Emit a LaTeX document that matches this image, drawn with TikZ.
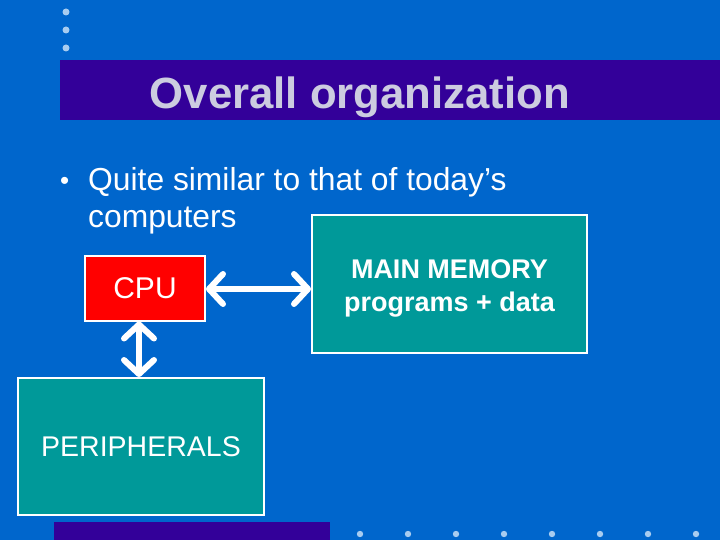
\documentclass[tikz,border=0pt]{standalone}
\usepackage{fontspec}
\setmainfont{Liberation Sans}
\usetikzlibrary{arrows.meta}
\definecolor{bg}{HTML}{0066CC}
\definecolor{titlebar}{HTML}{330099}
\definecolor{titletext}{HTML}{CCCCE0}
\definecolor{teal1}{HTML}{009999}
\definecolor{dotc}{HTML}{A8CCF0}
\tikzset{
  box/.style={draw=white, line width=2pt, text=white, inner sep=0pt},
  arr/.style={draw=white, line width=6pt, {Straight Barb[round,length=14pt,width=30pt]}-{Straight Barb[round,length=14pt,width=30pt]}},
  dotmark/.style={fill=dotc, draw=none},
  bodytext/.style={text=white, font=\fontsize{31.8}{37}\selectfont, inner sep=0pt, anchor=base west}
}
\begin{document}
\begin{tikzpicture}[x=1pt,y=-1pt]
\fill[bg] (0,0) rectangle (720,540);
\useasboundingbox (0,0) rectangle (720,540);
% top-left dots
\foreach \yy in {12,30,48} \fill[dotmark] (66,\yy) circle (3.5);
% title bar
\fill[titlebar] (60,60) rectangle (720,120);
\node[text=titletext, font=\bfseries\fontsize{43.7}{48}\selectfont, anchor=base, inner sep=0pt] (title) at (360,109) {Overall organization};
% bullet text
\node[bodytext, font=\fontsize{26}{30}\selectfont] (bul) at (60,190) {•};
\node[bodytext] (line1) at (88,191) {Quite similar to that of today’s};
\node[bodytext] (line2) at (88,228) {computers};
% boxes
\node[box, fill=red, minimum width=120pt, minimum height=65pt, font=\fontsize{30}{34}\selectfont] (cpu) at (145,288) {CPU};
\node[box, fill=teal1, minimum width=275pt, minimum height=138pt] (mem) at (449.5,284) {};
\node[text=white, inner sep=0pt, align=center, font=\bfseries\fontsize{27}{33}\selectfont] (memtext) at ([yshift=-4pt]mem.center) {MAIN MEMORY\\programs + data};
\node[box, fill=teal1, minimum width=246pt, minimum height=137pt, font=\fontsize{28.5}{32}\selectfont] (per) at (141,446.5) {PERIPHERALS};
% arrows
\draw[arr] ([yshift=-1pt]cpu.east) -- ([yshift=-1pt]cpu.east -| mem.west);
\draw[arr] ([xshift=-6pt]cpu.south) -- ([xshift=-6pt]cpu.south |- per.north);
% bottom bar
\fill[titlebar] (54,522) rectangle (330,540);
\foreach \xx in {360,408,456,504,552,600,648,696} \fill[dotmark] (\xx,534) circle (3.2);
\end{tikzpicture}
\end{document}
